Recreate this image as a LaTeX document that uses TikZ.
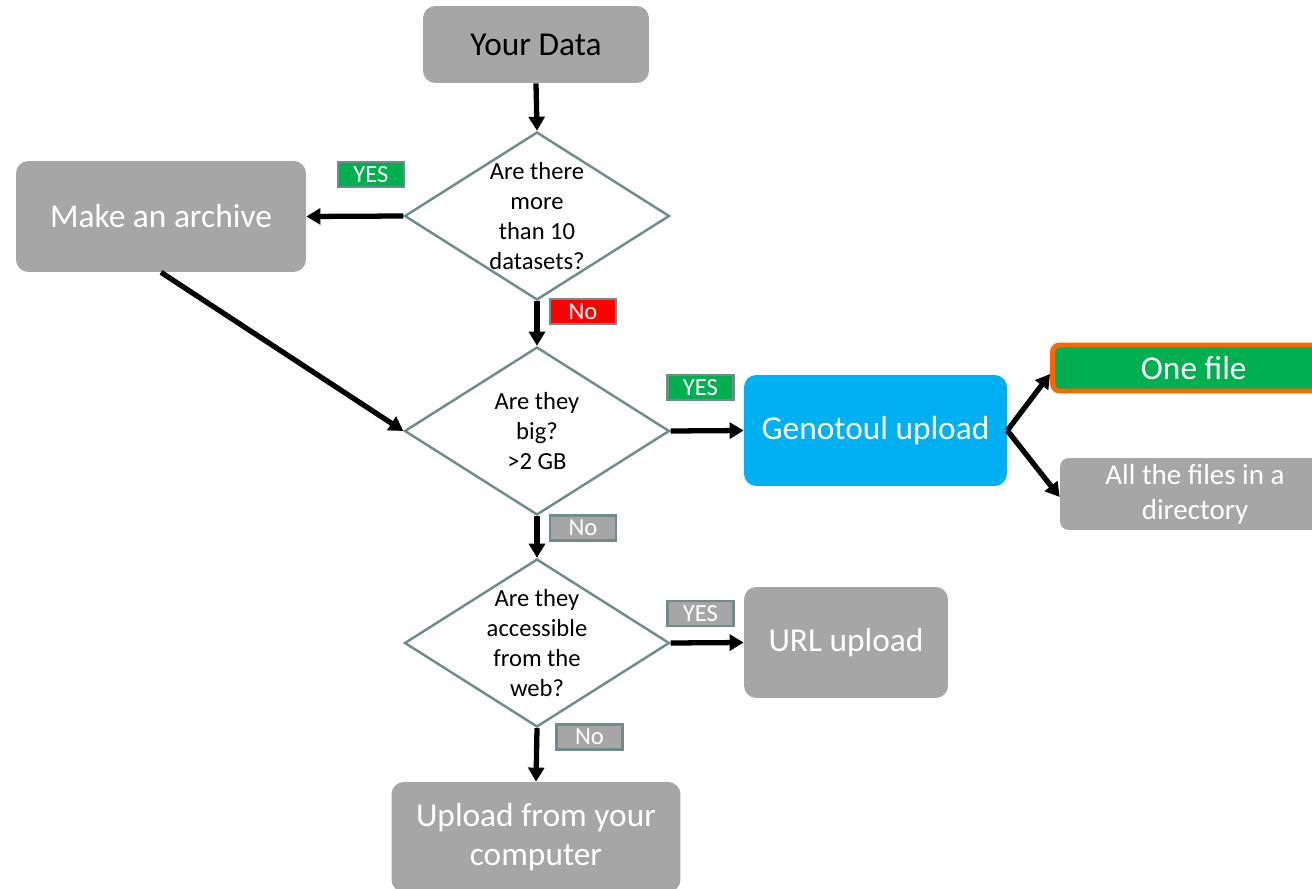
\documentclass[tikz,border=0pt]{standalone}
\usepackage{fontspec}
\setmainfont{Carlito}
\usepackage{xcolor}
\usetikzlibrary{arrows.meta, shapes.geometric}
\definecolor{boxgray}{RGB}{166,166,166}
\definecolor{rimteal}{RGB}{110,140,138}
\definecolor{okgreen}{RGB}{0,176,80}
\definecolor{uploadblue}{RGB}{0,176,240}
\definecolor{pickorange}{RGB}{255,102,0}

\begin{document}
\begin{tikzpicture}[
  x=0.02cm, y=-0.02cm,
  box/.style={rectangle, rounded corners=7pt, fill=boxgray, text=white, align=center, inner sep=2pt, font=\fontsize{19}{22}\selectfont},
  decision/.style={diamond, draw=rimteal, line width=1.4pt, fill=white, minimum width=5.3cm, minimum height=3.36cm, inner sep=0pt},
  qtext/.style={align=center, font=\fontsize{14}{17}\selectfont, inner sep=0pt},
  tag/.style={rectangle, draw=rimteal, line width=1.3pt, text=white, minimum width=1.32cm, minimum height=0.5cm, inner sep=0pt, font=\fontsize{14}{15}\selectfont},
  flow/.style={draw, line width=3pt, -{Triangle[length=8pt,width=9pt]}}
]
  \useasboundingbox (0,0) rectangle (1312,889);
  \clip (0,0) rectangle (1312,889);

  % start and questions
  \node[box, text=black, minimum width=4.52cm, minimum height=1.54cm] (data) at (536,44.5) {Your Data};
  \node[decision, label={[qtext]center:Are there\\more\\than 10\\datasets?}] (many) at (537,216) {};
  \node[decision, label={[qtext]center:Are they\\big?\\>2 GB}] (big) at (537,431) {};
  \node[decision, label={[qtext]center:Are they\\accessible\\from the\\web?}] (web) at (537,643) {};

  % outcomes
  \node[box, minimum width=5.8cm, minimum height=2.22cm] (archive) at (161,216.5) {Make an archive};
  \node[box, fill=uploadblue, minimum width=5.26cm, minimum height=2.22cm] (genotoul) at (875.5,430.5) {Genotoul upload};
  \node[box, rounded corners=4pt, fill=okgreen, draw=pickorange, line width=2.8pt, minimum width=5.9cm, minimum height=0.92cm] (onefile) at (1200,368) {One file\hspace*{0.25cm}};
  \node[box, rounded corners=5pt, minimum width=5.4cm, minimum height=1.44cm, font=\fontsize{16.5}{20}\selectfont] (allfiles) at (1195,494) {All the files in a\\directory};
  \node[box, minimum width=4.08cm, minimum height=2.22cm] (url) at (846,642.5) {URL upload};
  \node[box, minimum width=5.78cm, minimum height=2.2cm] (local) at (536,837) {Upload from your\\computer};

  % answer tags
  \node[tag, fill=okgreen] (yes1) at (371,174.5) {YES};
  \node[tag, fill=red] (no1) at (583,311.5) {No};
  \node[tag, fill=okgreen] (yes2) at (700.5,387.5) {YES};
  \node[tag, fill=boxgray] (no2) at (583,528) {No};
  \node[tag, fill=boxgray] (yes3) at (700.5,613.5) {YES};
  \node[tag, fill=boxgray] (no3) at (589.5,737) {No};

  % connectors
  \draw[flow] (data.south) -- (many.north);
  \draw[flow] (many.west) -- (archive.east);
  \draw[flow] (many.south) -- (big.north);
  \draw[flow] (archive.south) -- (big.west);
  \draw[flow] (big.east) -- (genotoul.west);
  \draw[flow] (big.south) -- (web.north);
  \draw[flow] (web.east) -- (url.west);
  \draw[flow] (web.south) -- (local.north);
  \draw[flow] (genotoul.east) -- ([yshift=-0.12cm]onefile.west);
  \draw[flow] (genotoul.east) -- ([yshift=-0.06cm]allfiles.west);
\end{tikzpicture}
\end{document}
